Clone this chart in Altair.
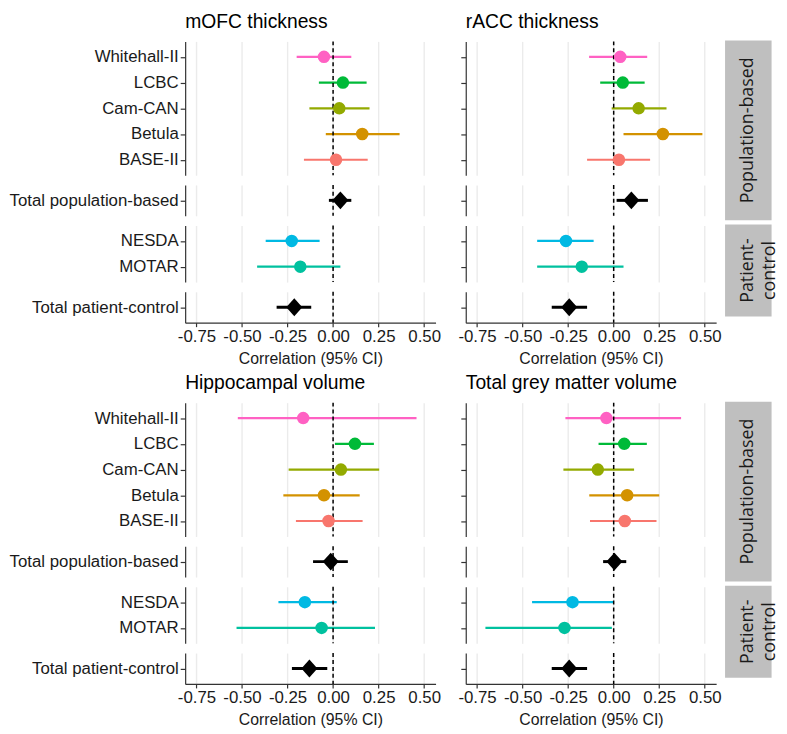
import altair as alt
import pandas as pd

# ---------------- data ----------------
MEASURES = ["mOFC thickness", "rACC thickness", "Hippocampal volume", "Total grey matter volume"]
STUDIES = ["Whitehall-II", "LCBC", "Cam-CAN", "Betula", "BASE-II",
           "Total population-based", "NESDA", "MOTAR", "Total patient-control"]
SUBPANEL = ["pop", "pop", "pop", "pop", "pop", "pop_total", "pat", "pat", "pat_total"]

mofc_r = [-0.05, 0.054, 0.034, 0.16, 0.016, 0.04, -0.227, -0.18, -0.213]
mofc_lo = [-0.20, -0.078, -0.13, -0.04, -0.16, -0.023, -0.37, -0.417, -0.31]
mofc_hi = [0.10, 0.184, 0.20, 0.365, 0.19, 0.10, -0.074, 0.04, -0.12]

racc_r = [0.036, 0.05, 0.137, 0.27, 0.029, 0.097, -0.262, -0.175, -0.244]
racc_lo = [-0.135, -0.074, -0.011, 0.054, -0.146, 0.016, -0.42, -0.42, -0.34]
racc_hi = [0.184, 0.17, 0.29, 0.487, 0.20, 0.188, -0.11, 0.054, -0.146]

hip_r = [-0.164, 0.12, 0.043, -0.05, -0.025, -0.013, -0.155, -0.063, -0.13]
hip_lo = [-0.523, 0.01, -0.244, -0.273, -0.204, -0.11, -0.30, -0.53, -0.226]
hip_hi = [0.458, 0.224, 0.253, 0.146, 0.162, 0.081, 0.02, 0.23, -0.032]

gm_r = [-0.04, 0.058, -0.087, 0.074, 0.061, 0.004, -0.226, -0.27, -0.244]
gm_lo = [-0.265, -0.083, -0.276, -0.134, -0.13, -0.058, -0.448, -0.704, -0.34]
gm_hi = [0.37, 0.182, 0.112, 0.25, 0.235, 0.069, 0.0, -0.01, -0.146]

STUDY_NAMES = ["BASE-II", "Betula", "Cam-CAN", "LCBC", "MOTAR", "NESDA", "Whitehall-II"]
STUDY_COLORS = ["#F8766D", "#D39200", "#93AA00", "#00BA38", "#00C19F", "#00B9E3", "#FF61C3"]

STRIP_LABELS = ["Population-based", "Patient-\ncontrol"]
X_TICKS = [-0.75, -0.5, -0.25, 0.0, 0.25, 0.5]
ZERO = [0.0]

R = [mofc_r, racc_r, hip_r, gm_r]
LO = [mofc_lo, racc_lo, hip_lo, gm_lo]
HI = [mofc_hi, racc_hi, hip_hi, gm_hi]

rows = []
for m, rr, ll, hh in zip(MEASURES, R, LO, HI):
    for s, g, rv, lv, hv in zip(STUDIES, SUBPANEL, rr, ll, hh):
        rows.append({"measure": m, "study": s, "grp": g, "r": rv, "lo": lv, "hi": hv})
df = pd.DataFrame(rows)
zero_df = pd.DataFrame({"v": ZERO})

# ---------------- layout constants ----------------
FONT = "Liberation Sans"
X_DOMAIN = [-0.812, 0.5625]
STEP = 26.0
W = 253
SUB_SPACING = 8.0
TITLE_H = 20
SW = 47          # strip width
STRIP_GAP = 3    # gap between right panel bounds and strip
COL_SPACING = 16.5
ROW_SPACING = 6

LABEL_EXPR = "datum.value < 0 ? '-' + format(-datum.value, '.2f') : format(datum.value, '.2f')"


def subchart(measure, grp, show_labels, last):
    studies = [s for s, g in zip(STUDIES, SUBPANEL) if g == grp]
    n = len(studies)
    h = STEP * (n - 1 + 1.2)
    is_total = grp.endswith("total")
    sub_df = df[(df.measure == measure) & (df.grp == grp)]

    if last:
        xaxis = alt.Axis(values=X_TICKS, labelExpr=LABEL_EXPR, title="Correlation (95% CI)",
                         grid=True, tickSize=4, labelPadding=2, titlePadding=6,
                         labelFlush=False, labelOverlap=False, domainWidth=1.2, tickWidth=1.2)
    else:
        xaxis = alt.Axis(values=X_TICKS, labels=False, ticks=False, domain=False,
                         title=None, grid=True)
    xscale = alt.Scale(domain=X_DOMAIN, nice=False, zero=False)
    y = alt.Y("study:N", sort=studies, scale=alt.Scale(type="point", padding=0.6),
              axis=alt.Axis(title=None, labels=show_labels, grid=False, tickSize=5,
                            labelPadding=2, domainWidth=1.2, tickWidth=1.2))
    if is_total:
        color = alt.value("black")
    else:
        color = alt.Color("study:N", scale=alt.Scale(domain=STUDY_NAMES, range=STUDY_COLORS),
                          legend=None)

    ci = alt.Chart(sub_df).mark_rule(strokeWidth=3 if is_total else 2.2).encode(
        x=alt.X("lo:Q", scale=xscale, axis=xaxis), x2="hi:Q", y=y, color=color)
    zero = alt.Chart(zero_df).mark_rule(strokeDash=[4, 3], color="black", strokeWidth=1.5).encode(
        x=alt.X("v:Q", scale=xscale))
    if is_total:
        pts = alt.Chart(sub_df).mark_point(filled=True, opacity=1, size=324,
                                           shape="M-0.9,0L0,-1L0.9,0L0,1Z").encode(
            x=alt.X("r:Q", scale=xscale), y=y, color=color)
    else:
        pts = alt.Chart(sub_df).mark_point(filled=True, opacity=1, size=160, shape="circle").encode(
            x=alt.X("r:Q", scale=xscale), y=y, color=color)
    return alt.layer(ci, zero, pts).properties(width=W, height=h)


def heading(measure):
    d = pd.DataFrame({"t": [measure]})
    return alt.Chart(d).mark_text(align="left", baseline="top", font=FONT,
                                  fontSize=19.5, color="black").encode(
        x=alt.value(0), y=alt.value(0), text="t:N"
    ).properties(width=W, height=TITLE_H)


def panel(measure, show_labels):
    groups = ["pop", "pop_total", "pat", "pat_total"]
    subs = [heading(measure)]
    for i, g in enumerate(groups):
        subs.append(subchart(measure, g, show_labels, last=(i == 3)))
    return alt.vconcat(*subs, spacing=SUB_SPACING)


def panel_height():
    return STEP * (5.2 + 1.2 + 2.2 + 1.2) + 3 * SUB_SPACING


def strip_box(label, h, top_pad):
    d = pd.DataFrame({"label": [label]})
    box = alt.Chart(d).mark_rect(color="#BFBFBF").encode(
        x=alt.value(STRIP_GAP), x2=alt.value(STRIP_GAP + SW),
        y=alt.value(top_pad), y2=alt.value(top_pad + h))
    txt = alt.Chart(d).mark_text(angle=270, font="Open Sans", fontSize=18, lineBreak="\n",
                                 lineHeight=22, color="#1a1a1a", align="center",
                                 baseline="middle").encode(
        x=alt.value(STRIP_GAP + SW / 2), y=alt.value(top_pad + h / 2), text="label:N")
    return alt.layer(box, txt).properties(width=STRIP_GAP + SW, height=top_pad + h)


def strips():
    total = panel_height()
    pat_h = 93
    gap = 4
    top_pad = TITLE_H + SUB_SPACING
    return alt.vconcat(strip_box(STRIP_LABELS[0], total - pat_h - gap, top_pad),
                       strip_box(STRIP_LABELS[1], pat_h, 0), spacing=gap)


def row(m_left, m_right):
    right = alt.hconcat(panel(m_right, False), strips(), spacing=0)
    return alt.hconcat(panel(m_left, True), right, spacing=COL_SPACING)


chart = alt.vconcat(row(MEASURES[0], MEASURES[1]), row(MEASURES[2], MEASURES[3]),
                    spacing=ROW_SPACING).properties(
    padding={"left": 0, "top": 0, "right": 0, "bottom": 0}
).configure_view(stroke=None).configure_axis(
    labelFont=FONT, labelFontSize=17, labelColor="#1a1a1a",
    titleFont=FONT, titleFontSize=16, titleFontWeight="normal", titleColor="#1a1a1a",
    domainColor="#333333", tickColor="#333333", gridColor="#EBEBEB", gridWidth=1.4
)

chart.save("out.html", embed_options={"renderer": "svg", "actions": False})
